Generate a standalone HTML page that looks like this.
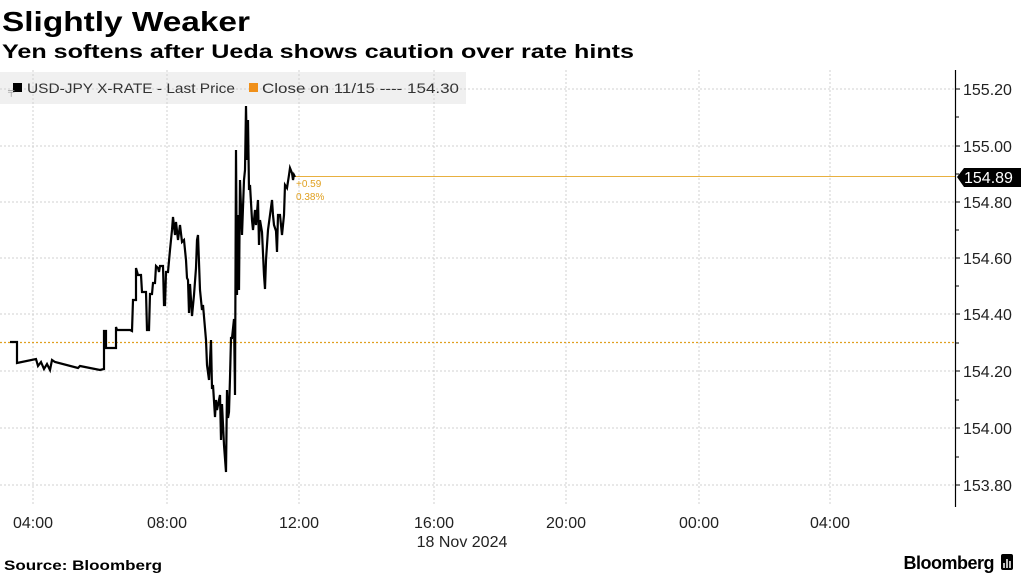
<!DOCTYPE html>
<html><head><meta charset="utf-8"><style>
body{margin:0;width:1024px;height:576px;background:#fff;overflow:hidden;font-family:"Liberation Sans",sans-serif}
</style></head><body>
<svg width="1024" height="576" xmlns="http://www.w3.org/2000/svg" style="position:absolute;left:0;top:0">
<text x="2" y="31" font-size="28" font-weight="bold" fill="#000" font-family="Liberation Sans" textLength="248" lengthAdjust="spacingAndGlyphs">Slightly Weaker</text>
<text x="2" y="58" font-size="19" font-weight="bold" fill="#000" font-family="Liberation Sans" textLength="632" lengthAdjust="spacingAndGlyphs">Yen softens after Ueda shows caution over rate hints</text>
<rect x="0" y="72" width="466" height="32" fill="#f0f0f0"/>
<g stroke="#d0d0d0" stroke-dasharray="2,2" stroke-width="1">
<line x1="33" y1="70" x2="33" y2="505"/><line x1="167" y1="70" x2="167" y2="505"/><line x1="299" y1="70" x2="299" y2="505"/><line x1="434" y1="70" x2="434" y2="505"/><line x1="566" y1="70" x2="566" y2="505"/><line x1="699" y1="70" x2="699" y2="505"/><line x1="830" y1="70" x2="830" y2="505"/>
<line x1="0" y1="89" x2="955" y2="89"/><line x1="0" y1="146" x2="955" y2="146"/><line x1="0" y1="202" x2="955" y2="202"/><line x1="0" y1="258" x2="955" y2="258"/><line x1="0" y1="314" x2="955" y2="314"/><line x1="0" y1="371" x2="955" y2="371"/><line x1="0" y1="428" x2="955" y2="428"/><line x1="0" y1="485" x2="955" y2="485"/>
</g>
<line x1="0" y1="342.5" x2="955" y2="342.5" stroke="#e0a020" stroke-dasharray="2,2" stroke-width="1.2"/>
<line x1="295" y1="176.5" x2="955" y2="176.5" stroke="#e8b040" stroke-width="1"/>
<g font-size="14" fill="#333">
<rect x="13" y="83" width="9" height="9" fill="#000"/><text x="8" y="94" font-size="9" fill="#999">╤</text>
<text x="27" y="93" textLength="208" lengthAdjust="spacingAndGlyphs">USD-JPY X-RATE - Last Price</text>
<rect x="249" y="83" width="9" height="9" fill="#f0901a"/>
<text x="262" y="93" textLength="197" lengthAdjust="spacingAndGlyphs">Close on 11/15 ---- 154.30</text>
</g>
<polyline fill="none" stroke="#000" stroke-width="2.2" stroke-linejoin="miter" points="10,342 17,342 17,363 36,359 38,366 41,362 44,369 47,364 50,370 52,360 55,362 78,368 80,366 90,368 100,370 104,369 104,331 106,331 106,348 116,348 116,327 117,330 130,330 132,331 133,300 136,300 136,268 138,275 141,275 142,292 146,292 147,330 149,330 150,294 152,294 153,283 155,283 156,266 158,268 159,272 160,266 163,266 164,305 165,305 166,272 168,272 170,250 172,230 173,217 175,235 176,222 178,240 180,225 182,242 184,240 186,260 187,278 188,280 189,313 190,284 192,316 194,295 196,268 197,240 198,235 200,290 202,310 203,305 206,340 207,365 209,380 211,340 212,389 213,385 215,417 216,400 217,410 220,395 221,440 222,404 224,445 226,472 227,390 228,418 229,412 230,378 231,338 232,338 234,319 235,395 236,150 237,295 238,215 239,290 240,180 242,235 244,180 245,170 246,106 247,160 248,120 249,190 250,185 252,220 253,230 255,210 256,225 258,200 259,245 260,220 262,232 264,275 265,289 266,260 268,230 270,215 272,200 273,215 274,225 276,231 277,252 278,215 280,215 282,235 284,215 285,185 287,188 289,175 290,168 292,173 293,180 294,175 295,177"/>
<text x="296" y="187" font-size="10" fill="#e0a020">+0.59</text>
<text x="296" y="200" font-size="10" fill="#e0a020">0.38%</text>
<line x1="955.5" y1="70" x2="955.5" y2="507" stroke="#000" stroke-width="1.2"/>
<g stroke="#000"><line x1="955" y1="89" x2="960" y2="89"/><line x1="955" y1="146" x2="960" y2="146"/><line x1="955" y1="202" x2="960" y2="202"/><line x1="955" y1="258" x2="960" y2="258"/><line x1="955" y1="314" x2="960" y2="314"/><line x1="955" y1="371" x2="960" y2="371"/><line x1="955" y1="428" x2="960" y2="428"/><line x1="955" y1="485" x2="960" y2="485"/>
<line x1="955" y1="117" x2="959" y2="117"/><line x1="955" y1="174" x2="959" y2="174"/><line x1="955" y1="230" x2="959" y2="230"/><line x1="955" y1="286" x2="959" y2="286"/><line x1="955" y1="343" x2="959" y2="343"/><line x1="955" y1="400" x2="959" y2="400"/><line x1="955" y1="457" x2="959" y2="457"/></g>
<g font-size="16" fill="#222">
<text x="963" y="95">155.20</text><text x="963" y="152">155.00</text><text x="963" y="208">154.80</text><text x="963" y="264">154.60</text><text x="963" y="320">154.40</text><text x="963" y="377">154.20</text><text x="963" y="434">154.00</text><text x="963" y="491">153.80</text>
</g>
<polygon points="957,177 964,168 1021,168 1021,187 964,187" fill="#000"/>
<text x="964" y="183" font-size="16" fill="#fff">154.89</text>
<g font-size="16" fill="#222" text-anchor="middle">
<text x="33" y="528">04:00</text><text x="167" y="528">08:00</text><text x="299" y="528">12:00</text><text x="434" y="528">16:00</text><text x="566" y="528">20:00</text><text x="699" y="528">00:00</text><text x="830" y="528">04:00</text>
<text x="462" y="547">18 Nov 2024</text>
</g>
<text x="4" y="570" font-size="14" font-weight="bold" fill="#000" textLength="158" lengthAdjust="spacingAndGlyphs">Source: Bloomberg</text>
<text x="994" y="569" font-size="18" font-weight="bold" fill="#000" text-anchor="end" letter-spacing="-0.5">Bloomberg</text>
<rect x="1001" y="554" width="12" height="16" rx="2" fill="#000"/>
<g stroke="#fff" stroke-width="1.5"><line x1="1004" y1="563" x2="1004" y2="568"/><line x1="1007" y1="559" x2="1007" y2="568"/><line x1="1010" y1="561" x2="1010" y2="568"/></g>
</svg>
</body></html>
